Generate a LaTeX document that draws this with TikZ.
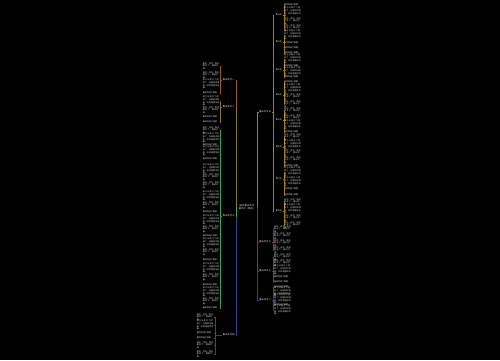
\documentclass[tikz,border=0pt]{standalone}
\usepackage{fontspec}
\newfontfamily\cjk{Noto Sans CJK SC}
\XeTeXlinebreaklocale "zh"
\XeTeXlinebreakskip = 0pt plus 1pt
\definecolor{brLa}{HTML}{9A5A2A}
\definecolor{brLb}{HTML}{857530}
\definecolor{brLc}{HTML}{3FA34D}
\definecolor{brLd}{HTML}{2E4A8A}
\definecolor{brRa}{HTML}{A57C2C}
\definecolor{brRb}{HTML}{8E2740}
\definecolor{brRc}{HTML}{7A2C8E}
\definecolor{brRd}{HTML}{3A3AA0}
\tikzset{
  leaf/.style={text=white!90!black, font=\cjk\fontsize{2}{2.6}\selectfont,
    inner sep=0pt, text width=17pt, align=left},
  branch/.style={text=white, font=\cjk\fontsize{2.2}{2.8}\selectfont,
    inner sep=0.5pt, text width=13pt, align=center},
  link/.style={line width=0.5pt},
}
\newcommand\leafA{春风吹绿了田野。}
\newcommand\leafB{桃花、杏花、梨花都开了，满树烂漫。}
\newcommand\leafC{燕子从南方飞回来了，在柳树间穿梭，叽叽喳喳地叫着。}
\newcommand\pick[1]{\ifcase#1\or\leafA\or\leafB\or\leafC\fi}

\begin{document}
\begin{tikzpicture}[x=1pt, y=-1pt]
    \fill[black] (0,0) rectangle (500,360);
    \node[branch, text width=18pt] (root) at (247,207) {描写春天的优美作文（精选）};

    % left branches
    \node[branch, anchor=east] (L1) at (236,80) {春天作文一};
    \node[branch, anchor=east] (L2) at (236,107) {春天作文二};
    \node[branch, anchor=east] (L3) at (236,216) {春天作文三};
    \node[branch, anchor=east] (L4) at (236,335) {春天作文四};
    \draw[link, brLa] (root.west) -- ++(-1,0) |- (L1.east);
    \draw[link, brLb] (root.west) -- ++(-1,0) |- (L2.east);
    \draw[link, brLd] (root.west) -- ++(-1,0) |- (L4.east);
    \draw[link, brLc] (root.west) -- ++(-1,0) |- (L3.east);

    % right branches
    \node[branch, anchor=west] (R1) at (258,112) {春天作文五};
    \node[branch, anchor=west] (R2) at (258,242) {春天作文六};
    \node[branch, anchor=west] (R3) at (258,271) {春天作文七};
    \node[branch, anchor=west] (R4) at (258,300) {春天作文八};
    \draw[link, brRa] (root.east) -- ++(1,0) |- (R1.west);
    \draw[link, brRd] (root.east) -- ++(1,0) |- (R4.west);
    \draw[link, brRc] (root.east) -- ++(1,0) |- (R3.west);
    \draw[link, brRb] (root.east) -- ++(1,0) |- (R2.west);

    % leaves on the left
    \foreach \y/\n in {66/2,75/2,84/3,93/1} {
        \node[leaf, anchor=east] (a\y) at (220,\y) {\pick\n};
        \draw[link, brLa] (L1.west) -- ++(-1,0) |- (a\y.east);
    }
    \foreach \y/\n in {101/3,110/2,117/1,122/1} {
        \node[leaf, anchor=east] (a\y) at (220,\y) {\pick\n};
        \draw[link, brLb] (L2.west) -- ++(-1,0) |- (a\y.east);
    }
    \foreach \y/\n in {130/2,138/3,145/1,151/3,159/1,169/3,177/2,185/2,196/3,
        205/2,212/1,220/3,229/2,236/1,243/3,252/2,260/1,268/3,277/2,285/1,
        292/3,301/2,308/1} {
        \node[leaf, anchor=east] (a\y) at (220,\y) {\pick\n};
        \draw[link, brLc] (L3.west) -- ++(-1,0) |- (a\y.east);
    }
    \foreach \y/\n in {317/2,325/3,333/1,338/1,345/2,354/2} {
        \node[leaf, anchor=east] (a\y) at (214,\y) {\pick\n};
        \draw[link, brLd] (L4.west) -- ++(-6,0) |- (a\y.east);
    }

    % sections of the fifth essay
    \foreach \s/\y/\items in {1/15/{5/1,12/3,21/2,28/2}, 2/42/{35/3,43/1,48/1,53/1},
        3/70/{59/3,66/1,72/3,77/1}, 4/95/{82/1,89/3,97/2,104/2},
        5/120/{111/2,118/2,125/3,132/1}, 6/147/{137/2,145/3,153/2,160/2,166/1},
        7/179/{172/3,182/3,189/1,195/1}, 8/211/{202/2,209/3,218/2,225/2}} {
        \node[branch, anchor=west, text width=8pt, font=\cjk\fontsize{2}{2.6}\selectfont]
            (s\s) at (274,\y) {第{\s}段};
        \draw[link, brRa] (R1.east) -- ++(1,0) |- (s\s.west);
        \foreach \v/\n in \items {
            \node[leaf, anchor=west] (b\v) at (284,\v) {\pick\n};
            \draw[link, brRa] (s\s.east) -- ++(1,0) |- (b\v.west);
        }
    }

    % leaves on the right
    \foreach \y/\n in {229/2,236/2,243/2,250/2} {
        \node[leaf, anchor=west] (c\y) at (274,\y) {\pick\n};
        \draw[link, brRb] (R2.east) -- ++(1,0) |- (c\y.west);
    }
    \foreach \y/\n in {257/2,263/2,270/3,277/1,282/1} {
        \node[leaf, anchor=west] (c\y) at (274,\y) {\pick\n};
        \draw[link, brRc] (R3.east) -- ++(1,0) |- (c\y.west);
    }
    \foreach \y/\n in {287/1,292/3,299/3,305/1,310/3} {
        \node[leaf, anchor=west] (c\y) at (274,\y) {\pick\n};
        \draw[link, brRd] (R4.east) -- ++(1,0) |- (c\y.west);
    }
\end{tikzpicture}
\end{document}
